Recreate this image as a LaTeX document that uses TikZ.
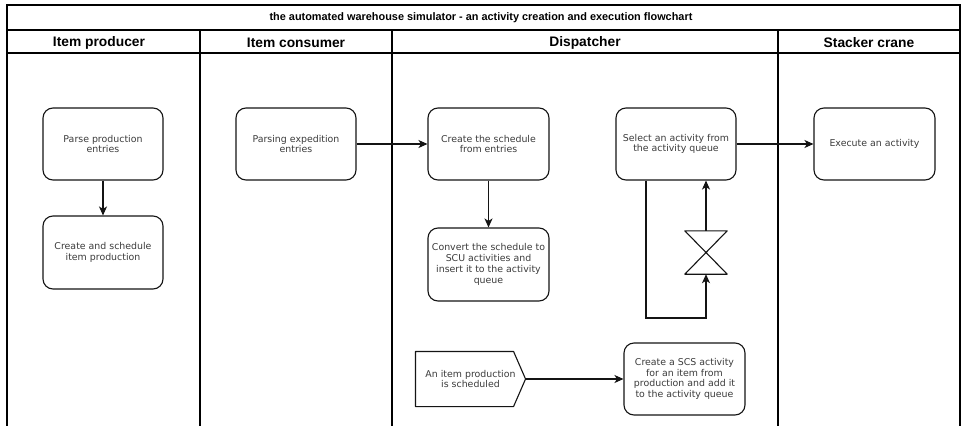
\documentclass[tikz,border=0pt]{standalone}
\usepackage{fontspec}
\setmainfont{DejaVu Sans}
\newfontfamily\headfont{Liberation Sans}
\usetikzlibrary{arrows.meta}
\definecolor{inkgray}{RGB}{60,60,60}
\definecolor{edgeblack}{RGB}{20,20,20}
\begin{document}
\begin{tikzpicture}[x=1pt,y=-1pt,
  lane/.style={line width=1.4pt,draw=black},
  task/.style={draw=edgeblack,line width=1.1pt,rounded corners=10pt,align=center,
    font=\fontsize{9.4}{10.8}\selectfont,text=inkgray,inner sep=1pt},
  flow/.style={draw=edgeblack,line width=1.1pt,-{Stealth[length=9pt,width=8pt,inset=2.5pt]}},
  headtxt/.style={font=\headfont\bfseries\fontsize{13.8}{16}\selectfont},
  titletxt/.style={font=\headfont\bfseries\fontsize{10.9}{12}\selectfont}]
\useasboundingbox (0,0) rectangle (962,426);
\fill[white] (0,0) rectangle (962,426);

% swimlane frame
\draw[lane] (7,426) -- (7,5) -- (960,5) -- (960,426);
\draw[lane] (7,30) -- (960,30);
\draw[lane] (7,53) -- (960,53);
\foreach \x in {200,392,778} \draw[lane] (\x,30) -- (\x,426);

\node[titletxt] (title) at (481,17.5) {the automated warehouse simulator - an activity creation and execution flowchart};
\node[headtxt] (h1) at (99,43) {Item producer};
\node[headtxt] (h2) at (296,43) {Item consumer};
\node[headtxt] (h3) at (585,43) {Dispatcher};
\node[headtxt] (h4) at (869,43) {Stacker crane};

% activities
\node[task,minimum width=120pt,minimum height=72pt] (pp) at (103,144) {Parse production\\entries};
\node[task,minimum width=120pt,minimum height=73pt] (cs) at (103,252.5) {Create and schedule\\item production};
\node[task,minimum width=120pt,minimum height=72pt] (pe) at (296,144) {Parsing expedition\\entries};
\node[task,minimum width=121pt,minimum height=72pt] (cf) at (488.5,144) {Create the schedule\\from entries};
\node[task,minimum width=121pt,minimum height=73pt] (cv) at (488.5,264.5) {Convert the schedule to\\SCU activities and\\insert it to the activity\\queue};
\node[task,minimum width=120pt,minimum height=72pt] (sel) at (676,144) {Select an activity from\\the activity queue};
\node[task,minimum width=121pt,minimum height=72pt] (ex) at (874.5,144) {Execute an activity};
\node[task,minimum width=121pt,minimum height=72pt] (scs) at (684.5,379) {Create a SCS activity\\for an item from\\production and add it\\to the activity queue};

% event (signal shape)
\node[task,draw=none,minimum width=109pt,minimum height=54pt] (evt) at (470.5,379) {An item production\\is scheduled};
\draw[draw=edgeblack,line width=1.1pt,line join=round]
  (evt.north west) -- ([xshift=-12pt]evt.north east) -- (evt.east)
  -- ([xshift=-12pt]evt.south east) -- (evt.south west) -- cycle;

% gate (bow tie)
\node[minimum width=42pt,minimum height=43pt,inner sep=0pt] (gate) at (706,252.5) {};
\draw[draw=edgeblack,line width=1.1pt,line join=round]
  (gate.north west) -- (gate.north east) -- (gate.south west) -- (gate.south east) -- cycle;
\coordinate (loop) at (706,318);

% connectors
\draw[flow] (pp) -- (cs);
\draw[flow] (pe) -- (cf);
\draw[flow] (cf) -- (cv);
\draw[flow] (sel) -- (ex);
\draw[flow] (evt.east) -- (scs);
\draw[flow] (gate.north) -- (sel.south -| gate.north);
\draw[flow] ([xshift=-30pt]sel.south) |- (loop) -- (gate.south);
\end{tikzpicture}
\end{document}
